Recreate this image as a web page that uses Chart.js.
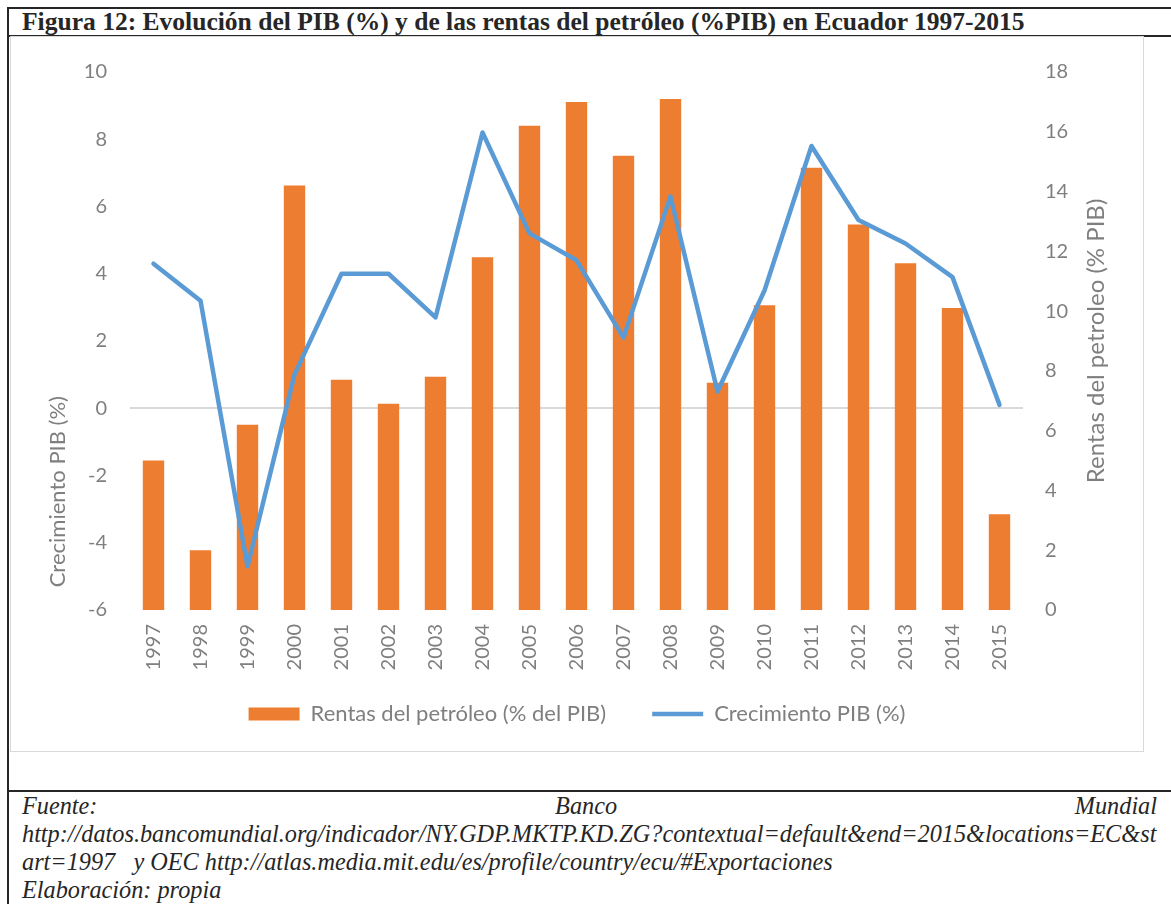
<!DOCTYPE html>
<html>
<head>
<meta charset="utf-8">
<script src="https://cdn.jsdelivr.net/npm/chart.js@4.4.1/dist/chart.umd.min.js"></script>
<style>
html, body { margin: 0; padding: 0; background: #fff; }
body { width: 1171px; height: 904px; position: relative; overflow: hidden; font-family: "Liberation Serif", serif; color: #262626; }
.hline { position: absolute; left: 7px; right: 0; height: 2px; background: #262626; }
.vline { position: absolute; left: 7px; top: 7px; bottom: 0; width: 2px; background: #262626; }
#title { position: absolute; left: 22px; top: 8px; line-height: 28px; font-weight: bold; font-size: 22px; white-space: nowrap; }
#box { position: absolute; left: 10px; top: 36px; width: 1134px; height: 716px; border: 1px solid #d9d9d9; box-sizing: border-box; }
#wrap { position: relative; width: 100%; height: 100%; }
#notes { position: absolute; left: 22px; top: 792px; width: 1135px; font-style: italic; font-size: 20px; line-height: 28px; }
.row { white-space: nowrap; }
.spread { display: flex; justify-content: space-between; }
</style>
</head>
<body>
<div class="hline" style="top:7px"></div>
<div class="hline" style="top:35px"></div>
<div class="hline" style="top:790px"></div>
<div class="vline"></div>
<div id="title">Figura 12: Evolución del PIB (%) y de las rentas del petróleo (%PIB) en Ecuador 1997-2015</div>
<div id="box"><div id="wrap"><canvas id="grafico"></canvas></div></div>
<div id="notes">
  <div class="row spread"><span>Fuente:</span><span>Banco</span><span>Mundial</span></div>
  <div class="row"><span id="url1">http://datos.bancomundial.org/indicador/NY.GDP.MKTP.KD.ZG?contextual=default&amp;end=2015&amp;locations=EC&amp;st</span></div>
  <div class="row">art=1997&nbsp;&nbsp; y OEC http://atlas.media.mit.edu/es/profile/country/ecu/#Exportaciones</div>
  <div class="row">Elaboración: propia</div>
</div>
<script>
const years = ['1997', '1998', '1999', '2000', '2001', '2002', '2003', '2004', '2005', '2006',
               '2007', '2008', '2009', '2010', '2011', '2012', '2013', '2014', '2015'];
// rentas del petroleo, eje derecho (% PIB)
const rentasPetroleo = [5.0, 2.0, 6.2, 14.2, 7.7, 6.9, 7.8, 11.8, 16.2, 17.0,
                        15.2, 17.1, 7.6, 10.2, 14.8, 12.9, 11.6, 10.1, 3.2];
// crecimiento del PIB, eje izquierdo (%)
const crecimientoPIB = [4.3, 3.2, -4.7, 1.0, 4.0, 4.0, 2.7, 8.2, 5.2, 4.4,
                        2.1, 6.3, 0.5, 3.5, 7.8, 5.6, 4.9, 3.9, 0.1];
const pibTicks = [-6, -4, -2, 0, 2, 4, 6, 8, 10];
const rentasTicks = [0, 2, 4, 6, 8, 10, 12, 14, 16, 18];

const gray = '#7f7f7f';
const font = 'Lato';

// fit a text element to a given width
function fitWidth(el, target) {
    const w = el.getBoundingClientRect().width;
    const size = parseFloat(getComputedStyle(el).fontSize);
    el.style.fontSize = (size * target / w) + 'px';
}
fitWidth(document.getElementById('title'), 1003);
fitWidth(document.getElementById('url1'), 1135);
document.getElementById('notes').style.fontSize = document.getElementById('url1').style.fontSize;

// Excel-style axis titles, both read bottom to top
function drawTitle(ctx, text, size, x, y) {
    ctx.save();
    ctx.fillStyle = gray;
    ctx.font = size + 'px ' + font;
    ctx.textAlign = 'center';
    ctx.textBaseline = 'middle';
    ctx.translate(x, y);
    ctx.rotate(-Math.PI / 2);
    ctx.fillText(text, 0, 0);
    ctx.restore();
}
const axisTitles = {
    id: 'axisTitles',
    afterLayout(chart) {
        // legend sits a bit higher than chart.js would put it
        chart.legend.top -= 16;
        chart.legend.bottom -= 16;
    },
    afterDraw(chart) {
        const a = chart.chartArea;
        drawTitle(chart.ctx, 'Crecimiento PIB (%)', 22, a.left - 72, a.top + a.height * 0.78);
        drawTitle(chart.ctx, 'Rentas del petroleo (% PIB)', 24, a.right + 73, a.top + a.height * 0.5);
    }
};

new Chart(document.getElementById('grafico'), {
    type: 'bar',
    data: {
        labels: years,
        datasets: [{
            type: 'bar',
            label: 'Rentas del petróleo (% del PIB)',
            data: rentasPetroleo,
            yAxisID: 'y1',
            backgroundColor: '#ED7D31',
            borderWidth: 0,
            categoryPercentage: 1,
            barPercentage: 0.455,
            order: 2
        }, {
            type: 'line',
            label: 'Crecimiento PIB (%)',
            data: crecimientoPIB,
            yAxisID: 'y',
            borderColor: '#5B9BD5',
            backgroundColor: '#5B9BD5',
            borderWidth: 4.5,
            borderJoinStyle: 'round',
            borderCapStyle: 'round',
            pointRadius: 0,
            pointHoverRadius: 0,
            tension: 0,
            fill: false,
            order: 1
        }]
    },
    options: {
        responsive: true,
        maintainAspectRatio: false,
        animation: false,
        layout: { padding: { top: 30, bottom: 0, left: 0, right: 0 } },
        scales: {
            x: {
                grid: { display: false, drawTicks: false },
                border: { display: false },
                ticks: { color: gray, font: { family: font, size: 20 }, maxRotation: 90, minRotation: 90, padding: 14 },
                afterFit(scale) { scale.height = 63; }
            },
            y: {
                position: 'left',
                min: pibTicks[0],
                max: pibTicks[pibTicks.length - 1],
                afterBuildTicks(scale) { scale.ticks = pibTicks.map(v => ({ value: v })); },
                grid: {
                    drawTicks: false,
                    lineWidth: 2,
                    color: c => (c.tick && c.tick.value === 0) ? '#d9d9d9' : 'rgba(0,0,0,0)'
                },
                border: { display: false },
                ticks: { color: gray, font: { family: font, size: 20 }, padding: 23 },
                afterFit(scale) { scale.width = 119; }
            },
            y1: {
                position: 'right',
                min: rentasTicks[0],
                max: rentasTicks[rentasTicks.length - 1],
                afterBuildTicks(scale) { scale.ticks = rentasTicks.map(v => ({ value: v })); },
                grid: { display: false, drawTicks: false },
                border: { display: false },
                ticks: { color: gray, font: { family: font, size: 20 }, padding: 22 },
                afterFit(scale) { scale.width = 120; }
            }
        },
        plugins: {
            legend: {
                position: 'bottom',
                labels: {
                    color: gray,
                    font: { family: font, size: 22 },
                    usePointStyle: true,
                    pointStyleWidth: 51,
                    boxHeight: 13,
                    padding: 46,
                    sort: (a, b) => a.datasetIndex - b.datasetIndex,
                    generateLabels(chart) {
                        const items = Chart.defaults.plugins.legend.labels.generateLabels(chart);
                        items.forEach(it => {
                            it.pointStyle = chart.data.datasets[it.datasetIndex].type === 'line' ? 'line' : 'rect';
                        });
                        return items;
                    }
                }
            },
            tooltip: { enabled: false }
        }
    },
    plugins: [axisTitles]
});
</script>
</body>
</html>
